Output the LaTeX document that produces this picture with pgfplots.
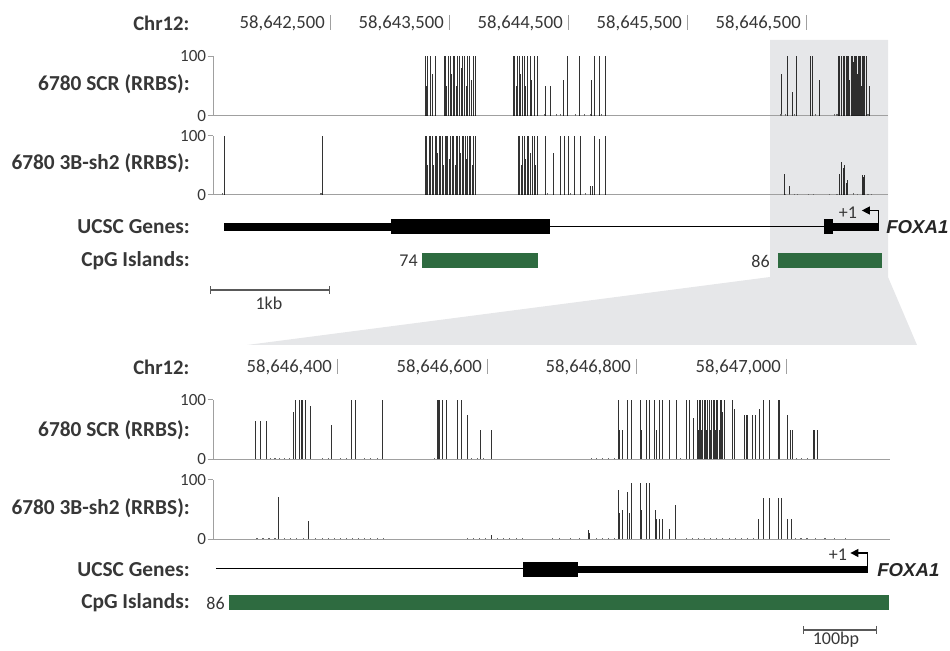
\documentclass[border=0pt]{standalone}
\usepackage{fontspec}
\setmainfont{Carlito}
\newfontfamily\arialfont{Liberation Sans}
\usepackage{pgfplots}
\pgfplotsset{compat=1.18}
\usetikzlibrary{arrows.meta}
\definecolor{bgGray}{RGB}{230,231,233}
\definecolor{cpgGreen}{RGB}{46,107,64}
\definecolor{txt}{RGB}{55,55,55}
\definecolor{axgray}{RGB}{160,160,160}
\pgfplotsset{
  track/.style={scale only axis, height=44.5pt, ymin=0, ymax=100, clip=false,
    axis x line*=bottom, axis y line*=left,
    axis line style={draw=axgray, line width=0.75pt, -},
    xtick=\empty, ytick={0,100}, tick align=outside, major tick length=4pt,
    tick style={draw=axgray, line width=0.75pt},
    /pgf/number format/assume math mode=true,
    yticklabel style={font=\fontsize{12.8}{14}\selectfont, text=txt, inner sep=1pt},
    anchor=south west},
  topx/.style={xmin=1517, xmax=7189, width=506.25pt},
  botx/.style={xmin=6234, xmax=7140, width=507.75pt},
  ann/.style={scale only axis, hide axis, clip=false, anchor=south west},
  meth/.style={ycomb, draw=black, line width=0.55pt, opacity=0.8, no marks},
  low/.style={ycomb, draw=black!60, line width=0.9pt, no marks},
}
\begin{document}
\begin{tikzpicture}
\begin{scope}[x=0.75pt,y=0.75pt]
\path[use as bounding box] (0,0) rectangle (950,650);
% grey zoom box and wedge
\fill[bgGray] (770,610) -- (888,610) -- (888,373) -- (917,305) -- (247,305) -- (770,373) -- cycle;
\tikzset{lab/.style={anchor=east, inner sep=0, font=\fontsize{16}{18}\selectfont\bfseries, text=txt},
         coordlab/.style={anchor=east, inner sep=0, font=\fontsize{14}{16}\selectfont, text=txt},
         sml/.style={inner sep=0, font=\fontsize{13.5}{15}\selectfont, text=txt}}
% ---------- header top ----------
\node[anchor=west, inner sep=0, font=\fontsize{15.5}{17}\selectfont\bfseries, text=txt] at (133,627) {Chr12:};
\foreach \t/\l in {330/58{,}642{,}500, 449/58{,}643{,}500, 568/58{,}644{,}500, 687/58{,}645{,}500, 806/58{,}646{,}500}{
  \node[coordlab] at (\t-5,627) {\l};
  \draw[axgray, line width=0.75pt] (\t,635) -- (\t,620);
}
\node[lab] at (190,566) {6780 SCR (RRBS):};
\node[lab] at (190,487) {6780 3B-sh2 (RRBS):};
\node[lab] at (190,423) {UCSC Genes:};
\node[lab] at (190,389) {CpG Islands:};
\node[anchor=east, sml] at (418,389) {74};
\node[anchor=east, sml] at (770,389) {86};
\node[sml] at (269,347) {1kb};
\node[sml] at (848,437) {+1};
\node[anchor=west, inner sep=0, font=\arialfont\fontsize{14}{16}\selectfont\bfseries\itshape, text=black!85] at (886,423) {FOXA1};
% ---------- header bottom ----------
\node[anchor=west, inner sep=0, font=\fontsize{15.5}{17}\selectfont\bfseries, text=txt] at (133,283) {Chr12:};
\foreach \t/\l in {337/58{,}646{,}400, 487/58{,}646{,}600, 636/58{,}646{,}800, 786/58{,}647{,}000}{
  \node[coordlab] at (\t-5,283) {\l};
  \draw[axgray, line width=0.75pt] (\t,291) -- (\t,276);
}
\node[lab] at (190,220) {6780 SCR (RRBS):};
\node[lab] at (190,142) {6780 3B-sh2 (RRBS):};
\node[lab] at (190,80) {UCSC Genes:};
\node[lab] at (190,47) {CpG Islands:};
\node[anchor=east, sml] at (225,47) {86};
\node[sml] at (838,95) {+1};
\node[sml] at (836,10) {100bp};
\node[anchor=west, inner sep=0, font=\arialfont\fontsize{14}{16}\selectfont\bfseries\itshape, text=black!85] at (877,80) {FOXA1};
\end{scope}

% ---------- top SCR track ----------
\begin{axis}[track, topx, at={(159.75pt,400.725pt)}]
\addplot[meth] coordinates {
(3298,100) (3310,50) (3322,100) (3340,100) (3360,70) (3385,100)
(3458,100) (3470,100) (3482,50) (3494,100) (3508,100) (3520,70) (3534,100) (3546,100)
(3560,50) (3574,100) (3588,100) (3600,80) (3614,100) (3628,100) (3642,50) (3658,100)
(3674,100) (3690,60) (3704,100) (3718,100)
(4037,100) (4050,100) (4062,50) (4074,100) (4088,100) (4100,70) (4115,100) (4130,100)
(4145,50) (4160,100) (4180,100) (4195,60) (4215,100) (4239,100)
(4306,50) (4348,50) (4457,60) (4491,100) (4592,100) (4700,60) (4718,100) (4760,100) (4810,100)
(6297,70) (6347,100) (6389,40) (6423,100) (6540,100) (6557,100) (6608,60)
(6776,100) (6784,100) (6793,100) (6801,50) (6810,100) (6818,100) (6826,100) (6835,100)
(6843,100) (6851,100) (6860,100) (6868,60) (6877,100) (6885,100) (6893,100) (6902,90)
(6910,100) (6918,100) (6927,100) (6935,70) (6944,100) (6952,100) (6960,100) (6969,50)
(6977,100) (6985,100) (6994,100) (7003,60) (7011,100) (7036,50)
};
\addplot[low] coordinates {(4300,3) (4400,3) (4440,3) (4560,3) (4640,3) (4690,3) (4780,3)
(6290,3) (6330,3) (6400,3) (6580,3) (6740,3) (6760,3) (7020,3)};
\end{axis}

% ---------- top 3B-sh2 track ----------
\begin{axis}[track, topx, at={(159.75pt,341.25pt)}]
\addplot[meth] coordinates {
(1610,100) (2433,100)
(3298,100) (3310,100) (3322,50) (3334,100) (3346,100) (3358,100) (3370,50) (3382,100)
(3394,100) (3406,70) (3418,100) (3430,100) (3442,100) (3454,50) (3466,100) (3478,100)
(3490,100) (3502,60) (3514,100) (3526,100) (3538,100) (3550,50) (3562,100) (3574,100)
(3586,100) (3598,70) (3610,100) (3622,100) (3634,100) (3646,60) (3658,100) (3670,100)
(3682,100) (3694,50) (3706,100) (3718,100)
(4080,100) (4093,100) (4106,50) (4119,100) (4132,100) (4145,60) (4158,100) (4171,100)
(4184,70) (4198,100) (4214,100) (4226,50) (4239,100)
(4306,100) (4373,70) (4432,100) (4466,100) (4499,100) (4550,100) (4600,100)
(4684,15) (4701,15) (4718,100) (4760,95) (4810,100)
(6322,35) (6356,15) (6784,35) (6793,40) (6801,55) (6810,45) (6818,40) (6826,50)
(6835,20) (6851,25) (6977,33) (6985,30) (6994,33)
};
\addplot[low] coordinates {(1600,3) (2425,3) (4330,3) (4520,3) (4650,3)
(6330,2) (6360,2) (6400,2) (6430,2) (6520,2) (6560,2) (6700,2) (6760,2) (6900,3) (6930,2) (7020,2) (7050,2)};
\end{axis}

% ---------- top annotation (genes, CpG, scale) ----------
\begin{axis}[ann, topx, ymin=-320, ymax=-200, height=90pt, at={(159.75pt,247.5pt)}]
\addplot[black, line width=6pt, no marks] coordinates {(1610,-227) (3012,-227)};
\addplot[black, line width=11.25pt, no marks] coordinates {(3012,-227) (4348,-227)};
\addplot[black, line width=0.75pt, no marks] coordinates {(4348,-227) (6650,-227)};
\addplot[black, line width=11.25pt, no marks] coordinates {(6650,-227) (6725,-227)};
\addplot[black, line width=6pt, no marks] coordinates {(6725,-227) (7112,-227)};
\addplot[black, line width=0.9pt, no marks, -{Triangle[length=6pt,width=6pt]}] coordinates {(7112,-227) (7112,-210.5) (6969,-210.5)};
\addplot[cpgGreen, line width=11.25pt, no marks] coordinates {(3273,-260.5) (4247,-260.5)};
\addplot[cpgGreen, line width=11.25pt, no marks] coordinates {(6263,-260.5) (7137,-260.5)};
\addplot[black!65, line width=1.1pt, no marks, {Bar[width=6pt]}-{Bar[width=6pt]}] coordinates {(1492,-290) (2500,-290)};
\end{axis}

% ---------- bottom SCR track ----------
\begin{axis}[track, botx, at={(159.75pt,143.025pt)}]
\addplot[meth] coordinates {
(6291,65) (6298,65) (6306,65) (6341,80) (6344,100) (6350,100) (6352,100) (6354,100)
(6357,100) (6364,90) (6393,58) (6419,100) (6425,100) (6460,100)
(6534,100) (6535,100) (6537,100) (6541,100) (6546,100) (6561,100) (6566,100) (6574,75)
(6575,65) (6592,50) (6606,50)
(6777,100) (6778,50) (6782,50) (6789,100) (6794,100) (6806,100) (6807,50) (6814,100)
(6818,100) (6825,100) (6827,50) (6831,100) (6836,100) (6845,100) (6854,100)
(6868,100) (6872,100) (6877,70)
(6882,100) (6883.5,50) (6885,100) (6886.5,100) (6888,50) (6889.5,100) (6891,100) (6893,100)
(6894.5,50) (6896,100) (6898,100) (6899.5,50) (6901,100) (6903,100) (6904.5,100) (6906,50)
(6908,100) (6909.5,100) (6911,50) (6913,100) (6914.5,100) (6916,80) (6918,100)
(6929,100) (6932,85) (6945,75) (6948,75) (6949,75) (6956,75) (6960,75) (6965,85)
(6971,100) (6979,100) (6990,100) (6992,100) (7003,75) (7007,50) (7010,50)
(7037,50) (7039,50) (7043,50)
};
\addplot[low] coordinates {(6311,2) (6317,2) (6323,2) (6330,2) (6336,2) (6381,2) (6389,2)
(6405,2) (6413,2) (6437,2) (6445,2) (6454,2) (6530,2) (6580,2) (6588,2) (6596,2)
(6740,2) (6747,2) (6755,2) (6763,2) (6771,2) (6860,2) (7015,2) (7022,2) (7030,2)};
\end{axis}

% ---------- bottom 3B-sh2 track ----------
\begin{axis}[track, botx, at={(159.75pt,83.025pt)}]
\addplot[meth] coordinates {
(6321,72) (6362,30) (6606,8) (6736,15) (6738,10)
(6777,83) (6778,45) (6782,50) (6789,80) (6791,45) (6794,95) (6806,95) (6807,50)
(6814,95) (6818,95) (6826,50) (6827,35) (6831,35) (6836,35) (6845,17) (6853,57)
(6964,35) (6971,70) (6978,70) (6990,70) (6994,70) (7003,35) (7008,35)
};
\addplot[low] coordinates {
(6293,2) (6301,2) (6309,2) (6317,2) (6330,2) (6338,2) (6346,2) (6355,2) (6371,2)
(6381,2) (6389,2) (6397,2) (6405,2) (6413,2) (6421,2) (6429,2) (6437,2) (6445,2) (6454,2) (6462,2)
(6575,2) (6583,2) (6591,2) (6599,2) (6615,2) (6623,2) (6631,2) (6640,2) (6648,2)
(6688,2) (6698,2) (6712,2) (6725,2) (6747,2) (6755,2) (6763,2) (6771,2)
(6868,2) (6876,2) (6884,2) (6892,2) (6900,2) (6908,2) (6916,2) (6925,2) (6933,2)
(6941,2) (6949,2) (6957,2) (7013,2) (7021,2) (7029,2) (7040,2) (7053,2) (7066,2) (7080,2)};
\end{axis}

% ---------- bottom annotation ----------
\begin{axis}[ann, botx, ymin=-650, ymax=-545, height=78.75pt, at={(159.75pt,0pt)}]
\addplot[black, line width=0.75pt, no marks] coordinates {(6238,-569) (6649,-569)};
\addplot[black, line width=11.25pt, no marks] coordinates {(6649,-569.5) (6723,-569.5)};
\addplot[black, line width=5.25pt, no marks] coordinates {(6723,-569.5) (7110,-569.5)};
\addplot[black, line width=0.9pt, no marks, -{Triangle[length=6pt,width=6pt]}] coordinates {(7110,-569.5) (7110,-553) (7087,-553)};
\addplot[cpgGreen, line width=11.25pt, no marks] coordinates {(6255,-602.5) (7138,-602.5)};
\addplot[black!65, line width=1.1pt, no marks, {Bar[width=6pt]}-{Bar[width=6pt]}] coordinates {(7023,-630) (7123,-630)};
\end{axis}
\end{tikzpicture}
\end{document}
